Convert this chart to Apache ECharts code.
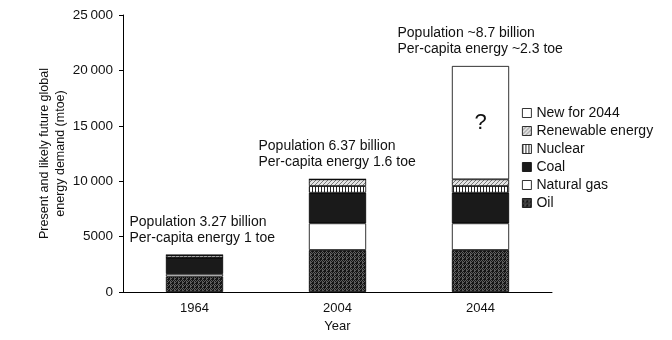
<!DOCTYPE html>
<html><head><meta charset="utf-8">
<script src="https://cdn.jsdelivr.net/npm/echarts@6/dist/echarts.min.js"></script>
<style>html,body{margin:0;padding:0;background:#fff}#c{width:672px;height:340px}</style>
</head><body><div id="c"></div>
<script>
const years = ['1964', '2004', '2044'];
const oil = [1400, 3790, 3790];
const gas = [230, 2410, 2410];
const coal = [1480, 2760, 2760];
const nuclear = [0, 600, 600];
const renewable = [220, 610, 610];
const newFor2044 = [0, 0, 10230];
const yTicks = [0, 5000, 10000, 15000, 20000, 25000];
const notes = [
  ['Population 3.27 billion', 'Per-capita energy 1 toe'],
  ['Population 6.37 billion', 'Per-capita energy 1.6 toe'],
  ['Population ~8.7 billion', 'Per-capita energy ~2.3 toe']
];
const noteDx = [-65, -79, -83];

function pat(size, draw) {
  const c = document.createElement('canvas');
  c.width = size; c.height = size;
  const g = c.getContext('2d');
  draw(g);
  return { image: c, repeat: 'repeat' };
}
const oilPat = pat(4, g => {
  g.fillStyle = '#5e5e5e'; g.fillRect(0, 0, 4, 4);
  g.fillStyle = '#151515';
  g.fillRect(0, 0, 1, 1); g.fillRect(2, 0, 1, 1); g.fillRect(1, 1, 1, 1); g.fillRect(3, 1, 1, 1);
  g.fillRect(0, 2, 2, 2); g.fillRect(3, 3, 1, 1);
});
const renPat = pat(4, g => {
  g.fillStyle = '#e4e4e4'; g.fillRect(0, 0, 4, 4);
  g.fillStyle = '#7a7a7a';
  for (let i = 0; i < 4; i++) g.fillRect((3 - i + 4) % 4, i, 1, 1);
});
const nucPat = pat(3, g => {
  g.fillStyle = '#ffffff'; g.fillRect(0, 0, 3, 3);
  g.fillStyle = '#222'; g.fillRect(0, 0, 1, 3);
});

const font = 'Liberation Sans, Arial, Helvetica, sans-serif';
function bar(name, data, color, extra) {
  return Object.assign({
    name, type: 'bar', stack: 'e', data, barWidth: '40%',
    itemStyle: { color, borderColor: '#000', borderWidth: 0.8 },
    emphasis: { disabled: true }
  }, extra || {});
}

const chart = echarts.init(document.getElementById('c'));
chart.setOption({
  animation: false,
  textStyle: { fontFamily: font },
  grid: { left: 123, right: 120, top: 15, bottom: 48 },
  legend: {
    orient: 'vertical', left: 517, top: 101, itemWidth: 9, itemHeight: 9, itemGap: 4, icon: 'rect',
    data: ['New for 2044', 'Renewable energy', 'Nuclear', 'Coal', 'Natural gas', 'Oil'],
    itemStyle: { borderColor: '#000', borderWidth: 0.8 },
    textStyle: { fontSize: 14, color: '#111', fontFamily: font, lineHeight: 14 },
    selectedMode: false
  },
  xAxis: {
    type: 'category', data: years,
    name: 'Year', nameLocation: 'middle', nameGap: 25,
    nameTextStyle: { fontSize: 13, color: '#111' },
    axisLine: { lineStyle: { color: '#000', width: 1 } },
    axisTick: { length: 4, lineStyle: { color: '#000' } },
    axisLabel: { fontSize: 13, color: '#111', margin: 10 }
  },
  yAxis: {
    type: 'value', min: 0, max: 25000, interval: 5000,
    name: 'Present and likely future global\nenergy demand (mtoe)',
    nameLocation: 'middle', nameGap: 54, nameRotate: 90, nameMoveOverlap: false,
    nameTextStyle: { fontSize: 12.5, color: '#111', lineHeight: 16 },
    axisLine: { show: true, lineStyle: { color: '#000', width: 1 } },
    axisTick: { show: true, length: 4, lineStyle: { color: '#000' } },
    splitLine: { show: false },
    axisLabel: {
      fontSize: 13.5, color: '#111', margin: 10,
      formatter: v => v >= 10000 ? String(v).replace(/(\d+)(\d{3})$/, '$1\u2009$2') : String(v)
    }
  },
  series: [
    bar('Oil', oil, oilPat),
    bar('Natural gas', gas, '#ffffff'),
    bar('Coal', coal, '#1a1a1a'),
    bar('Nuclear', nuclear, nucPat),
    bar('Renewable energy', renewable, renPat),
    bar('New for 2044', newFor2044, '#ffffff', {
      label: { show: true, position: 'inside', formatter: p => p.value ? '?' : '', fontSize: 22, color: '#111', fontFamily: font }
    })
  ]
});

const graphics = [];
years.forEach((y, i) => {
  const total = oil[i] + gas[i] + coal[i] + nuclear[i] + renewable[i] + newFor2044[i];
  const p = chart.convertToPixel({ xAxisIndex: 0, yAxisIndex: 0 }, [i, total]);
  graphics.push({
    type: 'text', left: p[0] + noteDx[i], top: p[1] - 41,
    style: { text: notes[i].join('\n'), fontSize: 14, lineHeight: 16, fill: '#111', fontFamily: font, textAlign: 'left' }
  });
});
chart.setOption({ graphic: graphics });
</script></body></html>
